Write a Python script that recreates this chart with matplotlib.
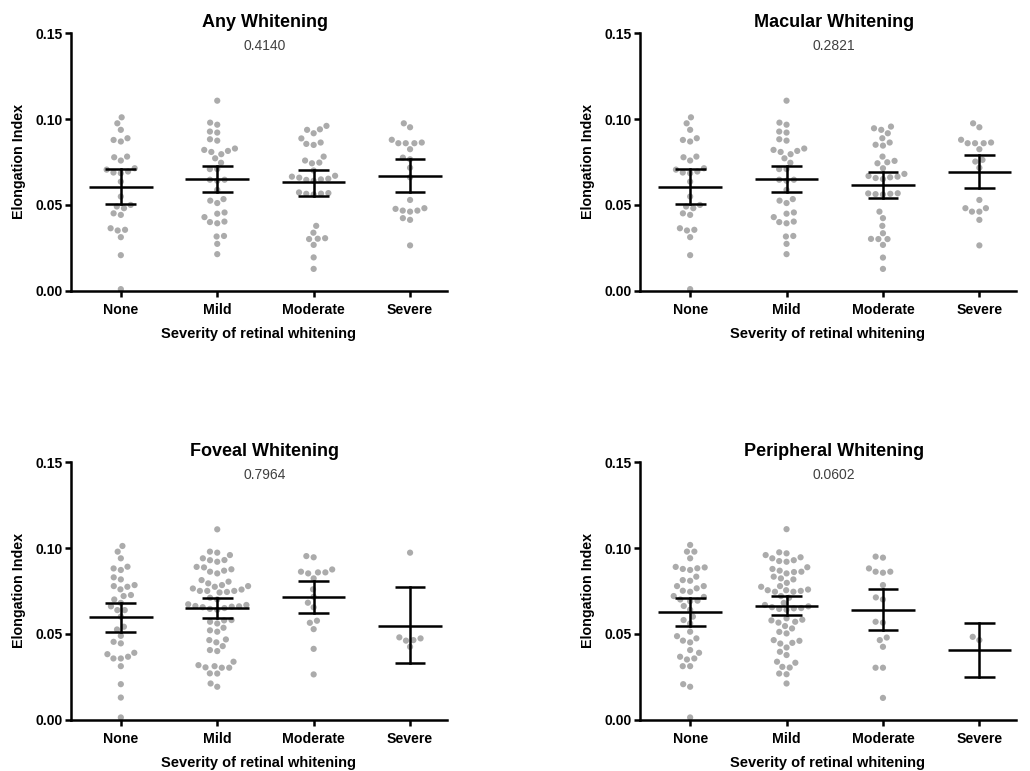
import numpy as np
import matplotlib
matplotlib.use("Agg")
import matplotlib.pyplot as plt

plt.rcParams['font.family'] = ['Liberation Sans', 'DejaVu Sans']

categories = ["None", "Mild", "Moderate", "Severe"]
titles = ["Any Whitening", "Macular Whitening", "Foveal Whitening", "Peripheral Whitening"]
p_values = ["0.4140", "0.2821", "0.7964", "0.0602"]
x_label = "Severity of retinal whitening"
y_label = "Elongation Index"
y_ticks = [0.00, 0.05, 0.10, 0.15]

# ---- Any / Macular whitening (None and Mild groups shared) ----
any_none = [0.1010, 0.0975, 0.0937, 0.0888, 0.0878, 0.0869, 0.0781, 0.0777, 0.0758,
            0.0713, 0.0705, 0.0694, 0.0688, 0.0684, 0.0635, 0.0548, 0.0499, 0.0490,
            0.0480, 0.0450, 0.0441, 0.0363, 0.0354, 0.0350, 0.0311, 0.0206, 0.0008]
any_mild = [0.1107, 0.0979, 0.0967, 0.0927, 0.0921, 0.0882, 0.0874, 0.0828, 0.0820,
            0.0814, 0.0808, 0.0795, 0.0771, 0.0745, 0.0708, 0.0708, 0.0646, 0.0646,
            0.0640, 0.0587, 0.0533, 0.0524, 0.0510, 0.0455, 0.0448, 0.0428, 0.0402,
            0.0399, 0.0392, 0.0318, 0.0315, 0.0272, 0.0212]
any_moderate = [0.0960, 0.0940, 0.0937, 0.0917, 0.0887, 0.0863, 0.0855, 0.0849, 0.0781,
                0.0758, 0.0746, 0.0742, 0.0700, 0.0669, 0.0664, 0.0658, 0.0652, 0.0648,
                0.0645, 0.0640, 0.0572, 0.0568, 0.0565, 0.0564, 0.0560, 0.0377, 0.0337,
                0.0305, 0.0302, 0.0300, 0.0266, 0.0193, 0.0126]
any_severe = [0.0975, 0.0952, 0.0879, 0.0863, 0.0859, 0.0859, 0.0859, 0.0824, 0.0775,
              0.0765, 0.0716, 0.0660, 0.0528, 0.0480, 0.0476, 0.0466, 0.0466, 0.0460,
              0.0422, 0.0412, 0.0263]
mac_moderate = [0.0956, 0.0946, 0.0937, 0.0917, 0.0888, 0.0863, 0.0850, 0.0845, 0.0781,
                0.0756, 0.0748, 0.0742, 0.0713, 0.0680, 0.0668, 0.0664, 0.0660, 0.0656,
                0.0650, 0.0567, 0.0566, 0.0564, 0.0562, 0.0560, 0.0460, 0.0422, 0.0377,
                0.0334, 0.0301, 0.0300, 0.0300, 0.0266, 0.0192, 0.0126]
mac_severe = [0.0975, 0.0952, 0.0879, 0.0863, 0.0859, 0.0859, 0.0859, 0.0824, 0.0762,
              0.0752, 0.0716, 0.0528, 0.0480, 0.0480, 0.0460, 0.0460, 0.0412, 0.0263]

# ---- Foveal whitening ----
fov_none = [0.1012, 0.0979, 0.0940, 0.0891, 0.0881, 0.0872, 0.0829, 0.0817, 0.0784,
            0.0778, 0.0774, 0.0759, 0.0726, 0.0720, 0.0700, 0.0680, 0.0660, 0.0638,
            0.0638, 0.0600, 0.0541, 0.0525, 0.0488, 0.0453, 0.0444, 0.0389, 0.0381,
            0.0366, 0.0356, 0.0356, 0.0311, 0.0206, 0.0128, 0.0012]
fov_mild = [0.1109, 0.0979, 0.0973, 0.0959, 0.0940, 0.0930, 0.0929, 0.0920, 0.0890,
            0.0887, 0.0876, 0.0868, 0.0862, 0.0852, 0.0813, 0.0804, 0.0794, 0.0784,
            0.0778, 0.0774, 0.0764, 0.0758, 0.0750, 0.0750, 0.0750, 0.0744, 0.0741,
            0.0710, 0.0700, 0.0672, 0.0668, 0.0662, 0.0660, 0.0658, 0.0655, 0.0650,
            0.0645, 0.0640, 0.0580, 0.0578, 0.0570, 0.0560, 0.0535, 0.0520, 0.0512,
            0.0467, 0.0463, 0.0450, 0.0428, 0.0405, 0.0399, 0.0337, 0.0317, 0.0311,
            0.0304, 0.0302, 0.0302, 0.0269, 0.0268, 0.0210, 0.0191]
fov_moderate = [0.0953, 0.0946, 0.0875, 0.0862, 0.0858, 0.0858, 0.0852, 0.0823, 0.0759,
                0.0716, 0.0681, 0.0654, 0.0576, 0.0564, 0.0527, 0.0412, 0.0263]
fov_severe = [0.0973, 0.0479, 0.0473, 0.0463, 0.0460, 0.0424]

# ---- Peripheral whitening ----
per_none = [0.1018, 0.0979, 0.0979, 0.0940, 0.0890, 0.0887, 0.0882, 0.0878, 0.0872,
            0.0833, 0.0813, 0.0809, 0.0778, 0.0778, 0.0765, 0.0751, 0.0745, 0.0720,
            0.0715, 0.0700, 0.0693, 0.0690, 0.0662, 0.0640, 0.0600, 0.0580, 0.0560,
            0.0512, 0.0486, 0.0473, 0.0460, 0.0450, 0.0405, 0.0389, 0.0366, 0.0356,
            0.0350, 0.0311, 0.0311, 0.0206, 0.0191, 0.0012]
per_mild = [0.1110, 0.0975, 0.0969, 0.0959, 0.0946, 0.0940, 0.0929, 0.0920, 0.0924,
            0.0888, 0.0878, 0.0868, 0.0860, 0.0852, 0.0862, 0.0833, 0.0823, 0.0817,
            0.0797, 0.0778, 0.0774, 0.0758, 0.0754, 0.0750, 0.0745, 0.0745, 0.0754,
            0.0720, 0.0710, 0.0680, 0.0668, 0.0660, 0.0655, 0.0650, 0.0648, 0.0645,
            0.0640, 0.0590, 0.0582, 0.0578, 0.0570, 0.0565, 0.0545, 0.0531, 0.0511,
            0.0502, 0.0463, 0.0459, 0.0447, 0.0443, 0.0420, 0.0395, 0.0376, 0.0337,
            0.0331, 0.0307, 0.0303, 0.0268, 0.0264, 0.0210]
per_moderate = [0.0950, 0.0944, 0.0881, 0.0862, 0.0862, 0.0856, 0.0784, 0.0712, 0.0700,
                0.0570, 0.0565, 0.0478, 0.0463, 0.0424, 0.0302, 0.0302, 0.0126]
per_severe = [0.0482, 0.0463]

# ---- Means and 95% CI ----
any_mean = [0.0606, 0.0650, 0.0630, 0.0668]
any_lo = [0.0503, 0.0574, 0.0552, 0.0577]
any_hi = [0.0709, 0.0727, 0.0703, 0.0766]
mac_mean = [0.0606, 0.0650, 0.0616, 0.0694]
mac_lo = [0.0503, 0.0574, 0.0538, 0.0597]
mac_hi = [0.0709, 0.0727, 0.0694, 0.0791]
fov_mean = [0.0595, 0.0652, 0.0716, 0.0547]
fov_lo = [0.0512, 0.0590, 0.0623, 0.0327]
fov_hi = [0.0681, 0.0710, 0.0810, 0.0771]
per_mean = [0.0625, 0.0664, 0.0638, 0.0405]
per_lo = [0.0545, 0.0609, 0.0522, 0.0245]
per_hi = [0.0706, 0.0722, 0.0759, 0.0565]

panels = [
    ([any_none, any_mild, any_moderate, any_severe], any_mean, any_lo, any_hi),
    ([any_none, any_mild, mac_moderate, mac_severe], mac_mean, mac_lo, mac_hi),
    ([fov_none, fov_mild, fov_moderate, fov_severe], fov_mean, fov_lo, fov_hi),
    ([per_none, per_mild, per_moderate, per_severe], per_mean, per_lo, per_hi),
]

W, H = 1030, 771
fig = plt.figure(figsize=(W / 100, H / 100), dpi=100)

ax_px = [(70.7, 33.3), (640.0, 33.3), (70.7, 462.3), (640.0, 462.3)]
ax_w, ax_h = 376.0, 257.2

DOT = "#ababab"
LW = 1.8


def swarm_offsets(vals, sx, sy, d):
    """Beeswarm horizontal offsets (data units) for values; sx, sy px per unit."""
    order = np.argsort(vals)
    placed = []
    offs = np.zeros(len(vals))
    for i in order:
        y = vals[i] * sy
        cands = [0.0]
        near = [(px, py) for px, py in placed if abs(py - y) < d]
        for px, py in near:
            dx = np.sqrt(d * d - (py - y) ** 2)
            cands += [px + dx, px - dx]
        best = None
        for c in sorted(cands, key=lambda c: (abs(c), c)):
            if all((c - px) ** 2 + (y - py) ** 2 >= d * d - 1e-6 for px, py in near):
                best = c
                break
        placed.append((best, y))
        offs[i] = best / sx
    return offs


for k, (groups, means, los, his) in enumerate(panels):
    x0, y0 = ax_px[k]
    ax = fig.add_axes([x0 / W, 1 - (y0 + ax_h) / H, ax_w / W, ax_h / H])
    ax.set_xlim(-0.52, 3.38)
    ax.set_ylim(0, 0.15)
    sx = ax_w / (3.38 + 0.52)
    sy = ax_h / 0.15
    for i, vals in enumerate(groups):
        v = np.array(vals)
        off = swarm_offsets(v, sx, sy, 7.4)
        ax.scatter(i + off, v, s=20, color=DOT, edgecolor='none', zorder=2, clip_on=False)
    xs = np.arange(len(categories))
    for i in xs:
        ax.plot([i - 0.33, i + 0.33], [means[i], means[i]], color='black', lw=LW, zorder=3,
                solid_capstyle='butt')
        ax.plot([i, i], [los[i], his[i]], color='black', lw=LW, zorder=3)
        for yy in (los[i], his[i]):
            ax.plot([i - 0.16, i + 0.16], [yy, yy], color='black', lw=LW, zorder=3,
                    solid_capstyle='butt')
    ax.spines['top'].set_visible(False)
    ax.spines['right'].set_visible(False)
    ax.spines['left'].set_linewidth(LW)
    ax.spines['bottom'].set_linewidth(LW)
    ax.set_yticks(y_ticks)
    ax.set_yticklabels([f"{t:.2f}" for t in y_ticks], fontweight='bold', fontsize=10)
    ax.set_xticks(xs)
    ax.set_xticklabels(categories, fontweight='bold', fontsize=10.2)
    ax.tick_params(axis='both', width=LW, length=4.2, color='black')
    ax.tick_params(axis='y', pad=1.5)
    ax.tick_params(axis='x', pad=4.5)
    ax.set_xlabel(x_label, fontweight='bold', fontsize=10.5, labelpad=7.5)
    ax.set_ylabel(y_label, fontweight='bold', fontsize=10.3, labelpad=7)
    ax.text(0.516, 1.043, titles[k], transform=ax.transAxes, ha='center', va='center',
            fontsize=13, fontweight='bold')
    ax.text(0.516, 0.952, p_values[k], transform=ax.transAxes, ha='center', va='center',
            fontsize=10, color='#404040')

fig.savefig("out.png", dpi=100)
